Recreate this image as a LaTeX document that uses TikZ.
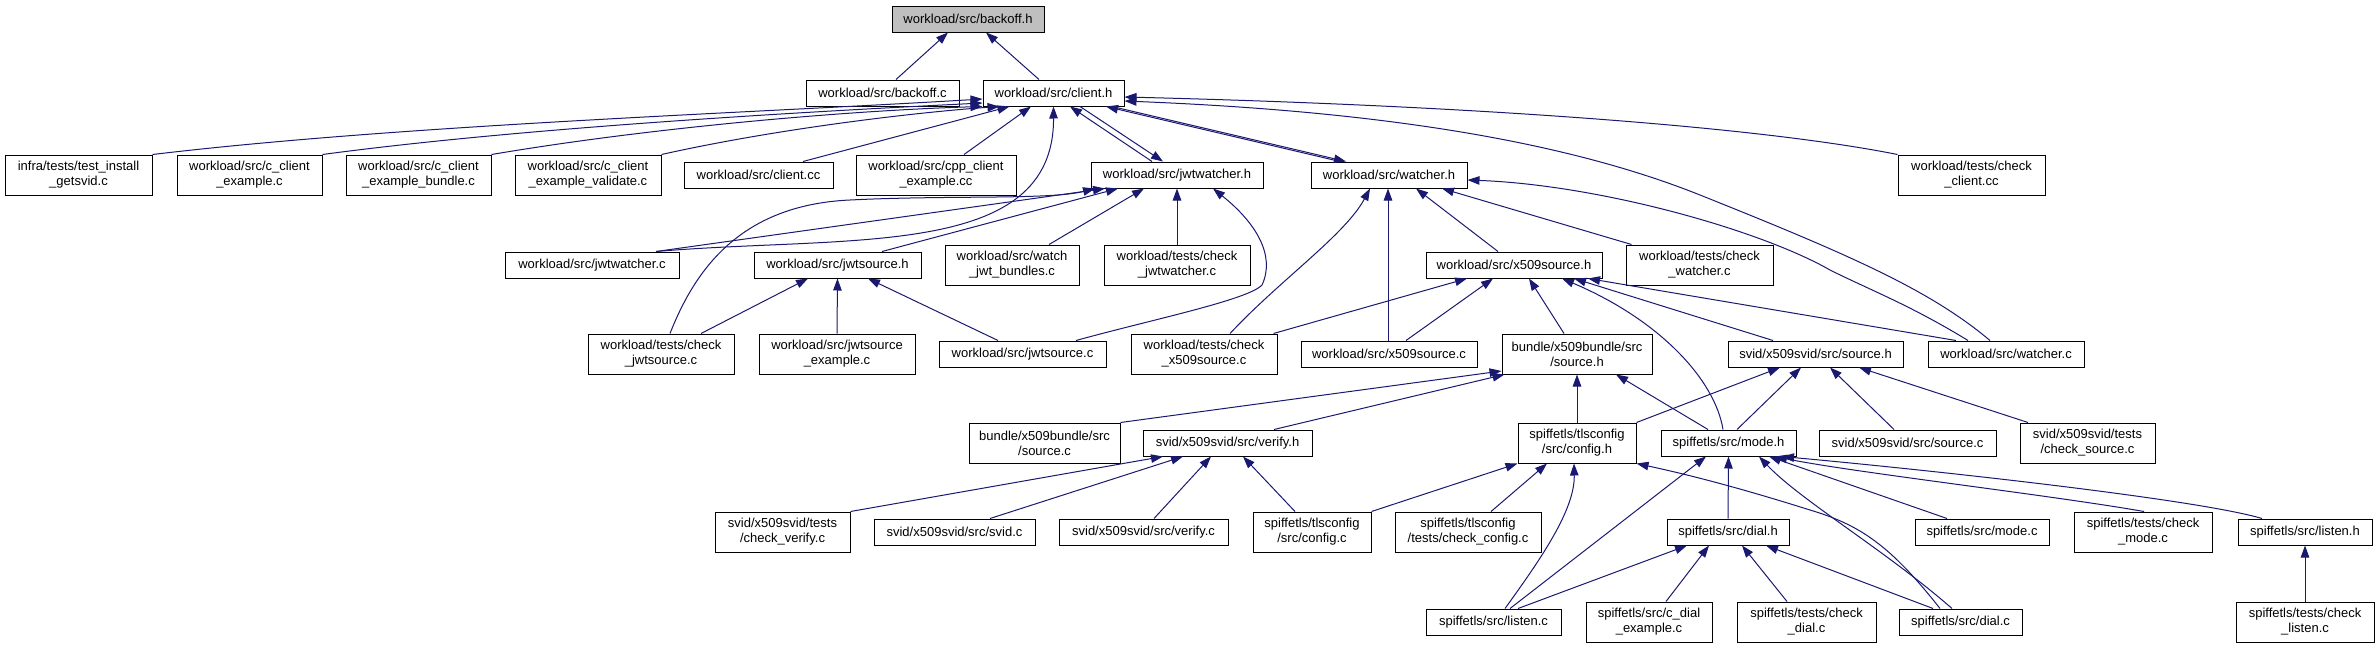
\documentclass[tikz,border=0pt]{standalone}
\usepackage{fontspec}
\setmainfont{Liberation Sans}
\usetikzlibrary{arrows.meta}
\definecolor{mblue}{HTML}{191970}
\definecolor{grey75}{HTML}{BFBFBF}
\begin{document}
\begin{tikzpicture}[x=1pt,y=-1pt,
  box/.style={draw=black,line width=1pt,rectangle,inner sep=0pt,align=center,fill=white,
    font=\fontsize{13}{15}\selectfont},
  one/.style={box,minimum height=26pt},
  two/.style={box,minimum height=40pt},
  dep/.style={draw=mblue,line width=1pt,-{Triangle[length=12pt,width=8.5pt]}}]
\useasboundingbox (0,0) rectangle (2380,648);
% rank 0-1
\node[one,fill=grey75,minimum width=152pt] (bh) at (968,19) {workload/src/backoff.h};
\node[one,minimum width=153pt] (bc) at (882.5,93) {workload/src/backoff.c};
\node[one,minimum width=141pt] (ch) at (1053.5,93) {workload/src/client.h};
% rank 2
\node[two,minimum width=147pt] (tig) at (78.5,175) {infra/tests/test\_install\\\_getsvid.c};
\node[two,minimum width=145pt] (cce) at (249.5,175) {workload/src/c\_client\\\_example.c};
\node[two,minimum width=145pt] (cceb) at (418.5,175) {workload/src/c\_client\\\_example\_bundle.c};
\node[two,minimum width=146pt] (ccev) at (588,175) {workload/src/c\_client\\\_example\_validate.c};
\node[one,minimum width=149pt] (ccc) at (758.5,175) {workload/src/client.cc};
\node[two,minimum width=160pt] (cpp) at (936,175) {workload/src/cpp\_client\\\_example.cc};
\node[one,minimum width=172pt] (jwh) at (1177,175) {workload/src/jwtwatcher.h};
\node[one,minimum width=156pt] (wh) at (1389,175) {workload/src/watcher.h};
\node[two,minimum width=147pt] (ckc) at (1971.5,175) {workload/tests/check\\\_client.cc};
% rank 3
\node[one,minimum width=174pt] (jwc) at (592,265) {workload/src/jwtwatcher.c};
\node[one,minimum width=167pt] (jsh) at (837.5,265) {workload/src/jwtsource.h};
\node[two,minimum width=134pt] (wjb) at (1012,265) {workload/src/watch\\\_jwt\_bundles.c};
\node[two,minimum width=146pt] (cjw) at (1177,265) {workload/tests/check\\\_jwtwatcher.c};
\node[one,minimum width=176pt] (xsh) at (1514,265) {workload/src/x509source.h};
\node[two,minimum width=147pt] (cwc) at (1699.5,265) {workload/tests/check\\\_watcher.c};
% rank 4
\node[two,minimum width=146pt] (cjs) at (661,354) {workload/tests/check\\\_jwtsource.c};
\node[two,minimum width=156pt] (jse) at (837,354) {workload/src/jwtsource\\\_example.c};
\node[one,minimum width=167pt] (jsc) at (1022.5,354) {workload/src/jwtsource.c};
\node[two,minimum width=146pt] (cxs) at (1204,354) {workload/tests/check\\\_x509source.c};
\node[one,minimum width=176pt] (xsc) at (1389,354) {workload/src/x509source.c};
\node[two,minimum width=150pt] (bsh) at (1577,354) {bundle/x509bundle/src\\/source.h};
\node[one,minimum width=175pt] (ssh) at (1815.5,354) {svid/x509svid/src/source.h};
\node[one,minimum width=156pt] (wc) at (2006,354) {workload/src/watcher.c};
% rank 5
\node[two,minimum width=151pt] (bsc) at (1044.5,443) {bundle/x509bundle/src\\/source.c};
\node[one,minimum width=169pt] (vh) at (1227.5,443) {svid/x509svid/src/verify.h};
\node[two,minimum width=118pt] (cfh) at (1577,443) {spiffetls/tlsconfig\\/src/config.h};
\node[one,minimum width=135pt] (mh) at (1728.5,443) {spiffetls/src/mode.h};
\node[one,minimum width=177pt] (ssc) at (1907.5,443) {svid/x509svid/src/source.c};
\node[two,minimum width=135pt] (csc) at (2087.5,443) {svid/x509svid/tests\\/check\_source.c};
% rank 6
\node[two,minimum width=135pt] (cvc) at (782.5,532) {svid/x509svid/tests\\/check\_verify.c};
\node[one,minimum width=161pt] (svc) at (954.5,532) {svid/x509svid/src/svid.c};
\node[one,minimum width=169pt] (vc) at (1143.5,532) {svid/x509svid/src/verify.c};
\node[two,minimum width=118pt] (cfc) at (1312,532) {spiffetls/tlsconfig\\/src/config.c};
\node[two,minimum width=146pt] (ckf) at (1468,532) {spiffetls/tlsconfig\\/tests/check\_config.c};
\node[one,minimum width=122pt] (dh) at (1728,532) {spiffetls/src/dial.h};
\node[one,minimum width=134pt] (mc) at (1982,532) {spiffetls/src/mode.c};
\node[two,minimum width=138pt] (cmc) at (2143,532) {spiffetls/tests/check\\\_mode.c};
\node[one,minimum width=134pt] (lh) at (2305,532) {spiffetls/src/listen.h};
% rank 7
\node[one,minimum width=135pt] (lc) at (1493.5,622) {spiffetls/src/listen.c};
\node[two,minimum width=126pt] (cde) at (1649,622) {spiffetls/src/c\_dial\\\_example.c};
\node[two,minimum width=139pt] (cdc) at (1806.5,622) {spiffetls/tests/check\\\_dial.c};
\node[one,minimum width=123pt] (dc) at (1960.5,622) {spiffetls/src/dial.c};
\node[two,minimum width=138pt] (clc) at (2305,622) {spiffetls/tests/check\\\_listen.c};

% edges to backoff.h
\draw[dep] ([xshift=13.5pt]bc.north) -- ([xshift=-20pt]bh.south);
\draw[dep] ([xshift=-14.5pt]ch.north) -- ([xshift=18pt]bh.south);
% edges to client.h
\draw[dep] (tig.north east) .. controls (400,125) and (750,113) .. ([yshift=-6pt]ch.west);
\draw[dep] (cce.north east) .. controls (520,128) and (800,112) .. ([yshift=-10pt]ch.west);
\draw[dep] (cceb.north east) .. controls (660,126) and (860,110) .. (ch.south west);
\draw[dep] (ccev.north east) .. controls (780,128) and (920,112) .. ([xshift=-54pt]ch.south);
\draw[dep] ([xshift=44.5pt]ccc.north) -- ([xshift=-44pt]ch.south);
\draw[dep] ([xshift=28pt]cpp.north) -- ([xshift=-22.5pt]ch.south);
\draw[dep] ([xshift=64pt]jwc.north) .. controls (850,235) and (1054,260) .. (ch.south);
\draw[dep] ([xshift=-25pt]jwh.north) -- ([xshift=16.5pt]ch.south);
\draw[dep] ([xshift=26.5pt]ch.south) -- ([xshift=-14pt]jwh.north);
\draw[dep] ([xshift=-49pt]wh.north) -- ([xshift=52.5pt]ch.south);
\draw[dep] ([xshift=58.5pt]ch.south) -- ([xshift=-43pt]wh.north);
\draw[dep] (ckc.north west) .. controls (1750,125) and (1450,105) .. ([yshift=-4pt]ch.east);
\draw[dep] ([xshift=-16pt]wc.north) .. controls (1930,290) and (1850,255) .. (1700,195)
   .. controls (1550,135) and (1350,110) .. ([yshift=-8pt]ch.east);
% edges to watcher.h from watcher.c
\draw[dep] ([xshift=-38pt]wc.north) .. controls (1910,305) and (1870,290) .. (1830,270)
   .. controls (1760,230) and (1600,185) .. ([yshift=-5pt]wh.east);
% edges to jwtwatcher.h
\draw[dep] ([xshift=9pt]cjs.north) .. controls (695,270) and (740,205) .. (850,200)
   .. controls (950,195) and (1050,200) .. ([xshift=-82pt]jwh.south);
\draw[dep] ([xshift=64pt]jwc.north) -- ([xshift=-72pt]jwh.south);
\draw[dep] ([xshift=44.5pt]jsh.north) -- ([xshift=-59pt]jwh.south);
\draw[dep] ([xshift=37pt]wjb.north) -- ([xshift=-33pt]jwh.south);
\draw[dep] (cjw.north) -- (jwh.south);
\draw[dep] ([xshift=53.5pt]jsc.north) .. controls (1150,320) and (1248,300) .. (1262,285)
   .. controls (1276,255) and (1255,222) .. ([xshift=36pt]jwh.south);
% edges to jwtsource.h
\draw[dep] ([xshift=40pt]cjs.north) -- ([xshift=-29.5pt]jsh.south);
\draw[dep] (jse.north) -- (jsh.south);
\draw[dep] ([xshift=-24.5pt]jsc.north) -- ([xshift=30.5pt]jsh.south);
% edges to watcher.h
\draw[dep] ([xshift=26pt]cxs.north) .. controls (1280,280) and (1345,235) .. ([xshift=-19pt]wh.south);
\draw[dep] ([xshift=-1pt]xsc.north) -- ([xshift=-1pt]wh.south);
\draw[dep] ([xshift=-16pt]xsh.north) -- ([xshift=27pt]wh.south);
\draw[dep] ([xshift=-68pt]cwc.north) -- ([xshift=53pt]wh.south);
% edges to x509source.h
\draw[dep] ([xshift=-4pt]cxs.north east) -- ([xshift=-47pt]xsh.south);
\draw[dep] ([xshift=17pt]xsc.north) -- ([xshift=-21pt]xsh.south);
\draw[dep] ([xshift=-13pt]bsh.north) -- ([xshift=15pt]xsh.south);
\draw[dep] ([xshift=-5.5pt]mh.north) .. controls (1715,380) and (1660,320) .. ([xshift=48pt]xsh.south);
\draw[dep] ([xshift=-42.5pt]ssh.north) -- ([xshift=60pt]xsh.south);
\draw[dep] ([xshift=-50pt]wc.north) -- ([xshift=74pt]xsh.south);
% edges to bundle source.h
\draw[dep] (bsc.north east) -- ([yshift=-17pt]bsh.west);
\draw[dep] ([xshift=46.5pt]vh.north) -- ([xshift=3pt]bsh.south west);
\draw[dep] (cfh.north) -- (bsh.south);
\draw[dep] ([xshift=-20.5pt]mh.north) -- ([xshift=39pt]bsh.south);
% edges to svid source.h
\draw[dep] (cfh.north east) -- ([xshift=-35.5pt]ssh.south);
\draw[dep] ([xshift=8.5pt]mh.north) -- ([xshift=-14.5pt]ssh.south);
\draw[dep] ([xshift=-13.5pt]ssc.north) -- ([xshift=14.5pt]ssh.south);
\draw[dep] ([xshift=-59.5pt]csc.north) -- ([xshift=43.5pt]ssh.south);
% edges to verify.h
\draw[dep] (cvc.north east) -- ([xshift=-64.5pt]vh.south);
\draw[dep] ([xshift=35.5pt]svc.north) -- ([xshift=-44.5pt]vh.south);
\draw[dep] ([xshift=10.5pt]vc.north) -- ([xshift=-16.5pt]vh.south);
\draw[dep] ([xshift=-17pt]cfc.north) -- ([xshift=15.5pt]vh.south);
% edges to config.h
\draw[dep] (cfc.north east) -- (cfh.south west);
\draw[dep] ([xshift=23pt]ckf.north) -- ([xshift=-30pt]cfh.south);
\draw[dep] ([xshift=11.5pt]lc.north) .. controls (1540,560) and (1575,510) .. ([xshift=-3pt]cfh.south);
\draw[dep] ([xshift=-20.5pt]dc.north) .. controls (1890,545) and (1860,525) .. (1810,510)
   .. controls (1740,488) and (1690,475) .. (cfh.south east);
% edges to mode.h
\draw[dep] ([xshift=16.5pt]lc.north) -- ([xshift=-22.5pt]mh.south);
\draw[dep] (dh.north) -- (mh.south);
\draw[dep] ([xshift=-8.5pt]dc.north) .. controls (1885,550) and (1800,500) .. ([xshift=30.5pt]mh.south);
\draw[dep] ([xshift=-35pt]mc.north) -- ([xshift=40.5pt]mh.south);
\draw[dep] ([xshift=1pt]cmc.north) .. controls (2050,495) and (1850,472) .. ([xshift=46.5pt]mh.south);
\draw[dep] ([xshift=-43pt]lh.north) .. controls (2200,500) and (1950,472) .. ([xshift=53.5pt]mh.south);
% edges to dial.h
\draw[dep] ([xshift=24.5pt]lc.north) -- ([xshift=-41pt]dh.south);
\draw[dep] ([xshift=17pt]cde.north) -- ([xshift=-19pt]dh.south);
\draw[dep] ([xshift=-19.5pt]cdc.north) -- ([xshift=14pt]dh.south);
\draw[dep] ([xshift=-27.5pt]dc.north) -- ([xshift=38pt]dh.south);
% edge to listen.h
\draw[dep] (clc.north) -- (lh.south);
\end{tikzpicture}
\end{document}
